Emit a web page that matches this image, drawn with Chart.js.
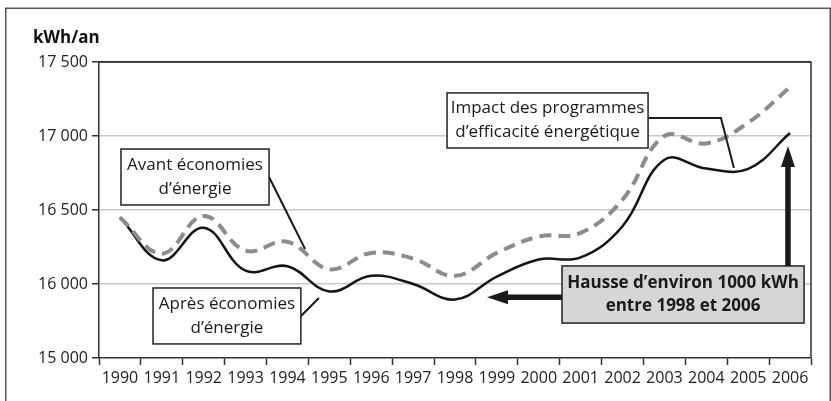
<!DOCTYPE html>
<html><head><meta charset="utf-8">
<script src="https://cdn.jsdelivr.net/npm/chart.js@4/dist/chart.umd.min.js"></script>
<style>html,body{margin:0;padding:0;background:#fff}#wrap{width:831px;height:401px}</style>
</head><body><div id="wrap"><canvas id="c" width="831" height="401"></canvas></div>
<script>
// ---- data ----
const years = ['1990','1991','1992','1993','1994','1995','1996','1997','1998','1999','2000','2001','2002','2003','2004','2005','2006'];
const avantEconomies = [16450,16205,16460,16225,16285,16100,16210,16172,16055,16210,16320,16345,16570,17000,16950,17090,17330];
const apresEconomies = [16450,16160,16380,16090,16120,15950,16055,16000,15895,16050,16165,16180,16390,16840,16780,16778,17020];
const yTickValues = [15500,16000,16500,17000,17500];
const yTickLabels = ['15 000','16 000','16 500','17 000','17 500'];
const yAxisTitle = 'kWh/an';

// annotation boxes in data coordinates (category index, value)
const notes = [
  {lines:['Avant économies','d’énergie'], x0:0.025, x1:3.56, y0:16912, y1:16534, bold:false, fill:'#ffffff'},
  {lines:['Après économies','d’énergie'], x0:0.79, x1:4.32, y0:15973, y1:15595, bold:false, fill:'#ffffff'},
  {lines:['Impact des programmes','d’efficacité énergétique'], x0:7.81, x1:12.61, y0:17291, y1:16919, bold:false, fill:'#ffffff'},
  {lines:['Hausse d’environ 1000 kWh','entre 1998 et 2006'], x0:10.555, x1:16.335, y0:16122, y1:15736, bold:true, fill:'#d6d6d6'}
];
const leaders = [
  [[3.56,16723],[4.42,16236]],
  [[4.30,15777],[4.75,15905]],
  [[12.61,17122],[14.35,17122],[14.66,16784]]
];
const arrows = [
  {from:[10.555,15910], to:[8.764,15910]},
  {from:[15.95,16122], to:[15.95,16932]}
];

const FONT = "'Open Sans', 'Noto Sans', sans-serif";

const framePlugin = {
  id:'frame',
  beforeDraw(chart){
    const c = chart.ctx;
    c.save();
    c.fillStyle = '#fff';
    c.fillRect(0,0,chart.width,chart.height);
    c.strokeStyle = '#555';
    c.lineWidth = 1.5;
    c.strokeRect(5.75, 8.25, 824.5, 420);
    c.fillStyle = '#111';
    c.font = "bold 17px " + FONT;
    c.textAlign = 'left';
    c.textBaseline = 'middle';
    c.fillText(yAxisTitle, 33, 38);
    c.restore();
  },
  beforeDatasetsDraw(chart){
    const a = chart.chartArea, c = chart.ctx;
    c.save();
    c.strokeStyle = '#333';
    c.lineWidth = 1.5;
    c.beginPath();
    c.moveTo(a.left, a.top);
    c.lineTo(a.right, a.top);
    c.lineTo(a.right, a.bottom);
    c.stroke();
    c.restore();
  }
};

const annotPlugin = {
  id:'annot',
  afterDatasetsDraw(chart){
    const xs = chart.scales.x, ys = chart.scales.y, c = chart.ctx;
    const X = i => xs.getPixelForValue(i), Y = v => ys.getPixelForValue(v);
    c.save();
    // leaders
    c.strokeStyle = '#1a1a1a';
    c.lineWidth = 2;
    leaders.forEach(pts => {
      c.beginPath();
      pts.forEach((p,k) => k ? c.lineTo(X(p[0]),Y(p[1])) : c.moveTo(X(p[0]),Y(p[1])));
      c.stroke();
    });
    // boxes
    notes.forEach(n => {
      const x0 = X(n.x0), x1 = X(n.x1), y0 = Y(n.y0), y1 = Y(n.y1);
      c.fillStyle = n.fill;
      c.fillRect(x0, y0, x1-x0, y1-y0);
      c.strokeStyle = '#222';
      c.lineWidth = 1.5;
      c.strokeRect(x0, y0, x1-x0, y1-y0);
      c.fillStyle = '#1a1a1a';
      c.font = (n.bold ? 'bold ' : '') + '17px ' + FONT;
      c.textAlign = 'center';
      c.textBaseline = 'middle';
      const cx = (x0+x1)/2, cy = (y0+y1)/2, gap = n.bold ? 11.5 : 12;
      c.fillText(n.lines[0], cx, cy - gap);
      c.fillText(n.lines[1], cx, cy + gap);
    });
    // arrows
    c.strokeStyle = '#1a1a1a';
    c.fillStyle = '#1a1a1a';
    arrows.forEach(ar => {
      const fx = X(ar.from[0]), fy = Y(ar.from[1]), tx = X(ar.to[0]), ty = Y(ar.to[1]);
      const dx = tx-fx, dy = ty-fy, L = Math.hypot(dx,dy), ux = dx/L, uy = dy/L;
      const hl = 21, hw = 7;
      const bx = tx - ux*hl, by = ty - uy*hl;
      c.lineWidth = 5.5;
      c.beginPath();
      c.moveTo(fx, fy); c.lineTo(bx + ux*2, by + uy*2);
      c.stroke();
      c.beginPath();
      c.moveTo(tx, ty);
      c.lineTo(bx - uy*hw, by + ux*hw);
      c.lineTo(bx + uy*hw, by - ux*hw);
      c.closePath();
      c.fill();
    });
    c.restore();
  }
};

new Chart(document.getElementById('c'), {
  type:'line',
  data:{
    labels: years,
    datasets:[
      {label:'Avant économies d’énergie', data: avantEconomies, borderColor:'#8c8c8c', borderWidth:4, borderDash:[12,7], tension:0.4, pointRadius:0, fill:false},
      {label:'Après économies d’énergie', data: apresEconomies, borderColor:'#141414', borderWidth:2.5, tension:0.4, pointRadius:0, fill:false}
    ]
  },
  options:{
    responsive:false,
    animation:false,
    devicePixelRatio:1,
    layout:{padding:{top:62, right:20, left:0, bottom:0}},
    plugins:{legend:{display:false}, tooltip:{enabled:false}},
    scales:{
      x:{
        offset:true,
        grid:{offset:true, drawOnChartArea:false, drawTicks:true, tickLength:7, tickColor:'#333', tickWidth:1.5},
        border:{color:'#333', width:1.5},
        ticks:{autoSkip:false, maxRotation:0, minRotation:0, color:'#222', font:{family:FONT, size:16}, padding:4},
        afterFit(s){ s.height = 43; }
      },
      y:{
        min:15500, max:17500,
        afterBuildTicks(s){ s.ticks = yTickValues.map(v => ({value:v})); },
        grid:{
          color(ctx){ const v = ctx.tick && ctx.tick.value; if (v === 17500) return '#333'; if (v === 15500) return 'rgba(0,0,0,0)'; return '#c8c8c8'; },
          lineWidth:1.5, tickLength:7, tickColor:'#333', tickWidth:1.5
        },
        border:{color:'#333', width:1.5},
        ticks:{callback(v, i){ return yTickLabels[i]; }, color:'#222', font:{family:FONT, size:16}, padding:4},
        afterFit(s){ s.width = 99; }
      }
    }
  },
  plugins:[framePlugin, annotPlugin]
});
</script>
</body></html>
